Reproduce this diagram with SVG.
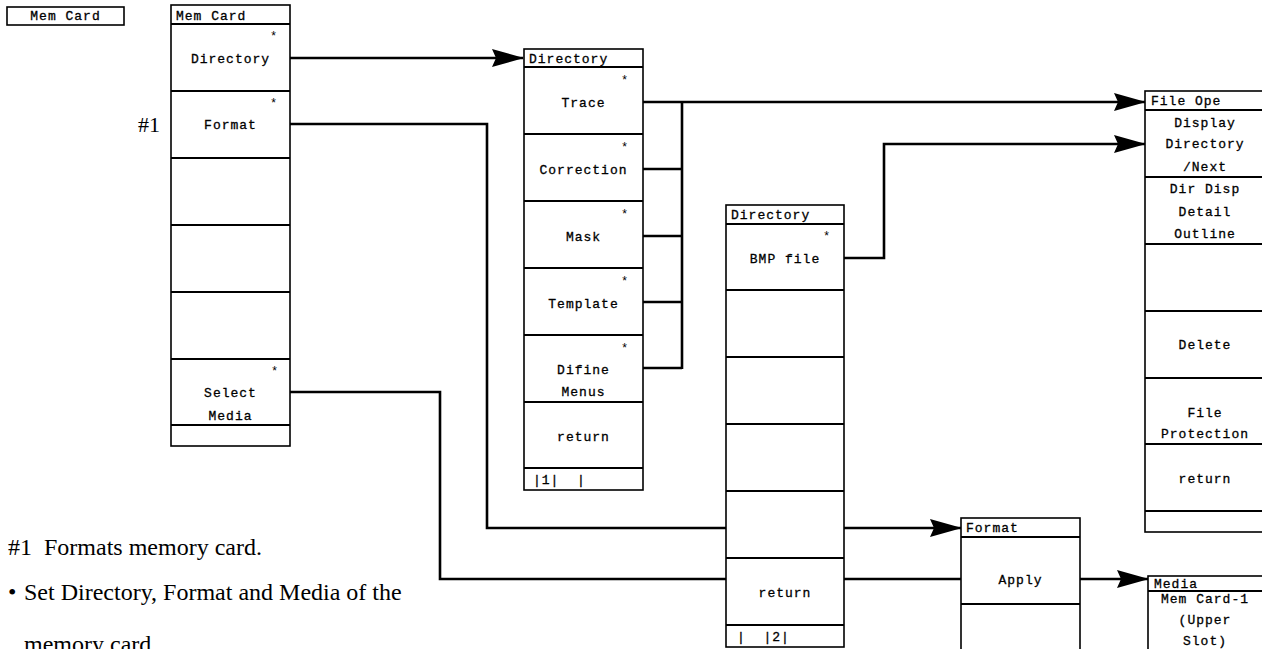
<svg xmlns="http://www.w3.org/2000/svg" width="1262" height="649" viewBox="0 0 1262 649">
<style>
.box{fill:#fff;stroke:#000;stroke-width:1.6}
.row{stroke:#000;stroke-width:2;fill:none}
.t{font-family:"Liberation Mono",monospace;font-size:13px;letter-spacing:1px;fill:#000;stroke:#000;stroke-width:0.3}
.c{text-anchor:middle}
.st{font-family:"Liberation Mono",monospace;font-size:12px;fill:#000}
.pre{white-space:pre}
.conn{fill:none;stroke:#000;stroke-width:2.6}
.serif{font-family:"Liberation Serif",serif;fill:#000}
</style>
<defs>
<marker id="ah" viewBox="0 0 32 18" refX="31" refY="9" markerWidth="32" markerHeight="18" markerUnits="userSpaceOnUse" orient="auto">
<path d="M0,0 L32,9 L0,18 L4,9 z" fill="#000"/>
</marker>
</defs>

<g id="connectors">
<path class="conn" d="M290,58 H523" marker-end="url(#ah)"/>
<path class="conn" d="M290,124 H487 V528 H961" marker-end="url(#ah)"/>
<path class="conn" d="M290,392 H440 V579 H1148" marker-end="url(#ah)"/>
<path class="conn" d="M643,102 H1145" marker-end="url(#ah)"/>
<path class="conn" d="M643,169 H682 M643,236 H682 M643,302 H682 M643,368 H682 M682,102 V369"/>
<path class="conn" d="M844,258 H884 V144 H1145" marker-end="url(#ah)"/>
</g>

<g id="memcard-label">
<rect class="box" x="7" y="7" width="117" height="18"/>
<text class="t c" x="65.5" y="20">Mem Card</text>
</g>

<g id="memcard-menu">
<rect class="box" x="171" y="5" width="119" height="441"/>
<path class="row" d="M171,24 H290 M171,91 H290 M171,158 H290 M171,225 H290 M171,292 H290 M171,359 H290 M171,425 H290"/>
<text class="t" x="176" y="19.5">Mem Card</text>
<text class="t c" x="230.5" y="62.5">Directory</text>
<text class="st" x="270" y="40">*</text>
<text class="t c" x="230.5" y="128.5">Format</text>
<text class="st" x="270" y="107">*</text>
<text class="t c" x="230.5" y="396.5">Select</text>
<text class="t c" x="230.5" y="419.5">Media</text>
<text class="st" x="271" y="375">*</text>
</g>

<g id="directory-1">
<rect class="box" x="524" y="49" width="119" height="441"/>
<path class="row" d="M524,67 H643 M524,134 H643 M524,201 H643 M524,268 H643 M524,335 H643 M524,402 H643 M524,468 H643"/>
<text class="t" x="529" y="62.5">Directory</text>
<text class="t c" x="583.5" y="106.5">Trace</text>
<text class="st" x="621" y="84">*</text>
<text class="t c" x="583.5" y="173.5">Correction</text>
<text class="st" x="621" y="151">*</text>
<text class="t c" x="583.5" y="240.5">Mask</text>
<text class="st" x="621" y="218">*</text>
<text class="t c" x="583.5" y="307.5">Template</text>
<text class="st" x="621" y="285">*</text>
<text class="t c" x="583.5" y="373.5">Difine</text>
<text class="t c" x="583.5" y="395.5">Menus</text>
<text class="st" x="621" y="352">*</text>
<text class="t c" x="583.5" y="440.5">return</text>
<text class="t pre" x="533" y="484">|1|  |</text>
</g>

<g id="directory-2">
<rect class="box" x="726" y="205" width="118" height="442"/>
<path class="row" d="M726,224 H844 M726,290 H844 M726,357 H844 M726,424 H844 M726,491 H844 M726,558 H844 M726,625 H844"/>
<text class="t" x="731" y="219">Directory</text>
<text class="t c" x="785" y="262.5">BMP file</text>
<text class="st" x="823" y="240">*</text>
<text class="t c" x="785" y="596.5">return</text>
<text class="t pre" x="737" y="641">|  |2|</text>
</g>

<g id="file-ope">
<rect class="box" x="1145" y="91" width="120" height="441"/>
<path class="row" d="M1145,110 H1265 M1145,177 H1265 M1145,244 H1265 M1145,311 H1265 M1145,378 H1265 M1145,444 H1265 M1145,511 H1265"/>
<text class="t" x="1151" y="105">File Ope</text>
<text class="t c" x="1205" y="126.5">Display</text>
<text class="t c" x="1205" y="147.5">Directory</text>
<text class="t c" x="1205" y="170.5">/Next</text>
<text class="t c" x="1205" y="192.5">Dir Disp</text>
<text class="t c" x="1205" y="215.5">Detail</text>
<text class="t c" x="1205" y="237.5">Outline</text>
<text class="t c" x="1205" y="348.5">Delete</text>
<text class="t c" x="1205" y="416.5">File</text>
<text class="t c" x="1205" y="437.5">Protection</text>
<text class="t c" x="1205" y="482.5">return</text>
</g>

<g id="format-menu">
<rect class="box" x="961" y="518" width="119" height="160"/>
<path class="row" d="M961,537 H1080 M961,604 H1080"/>
<text class="t" x="966" y="532">Format</text>
<text class="t c" x="1020.5" y="584">Apply</text>
</g>

<g id="media-menu">
<rect class="box" x="1148" y="576" width="117" height="100"/>
<path class="row" d="M1148,591 H1265"/>
<text class="t" x="1154" y="588">Media</text>
<text class="t c" x="1205" y="603">Mem Card-1</text>
<text class="t c" x="1205" y="624">(Upper</text>
<text class="t c" x="1205" y="645">Slot)</text>
</g>

<g id="notes">
<text class="serif" x="138" y="132" font-size="22">#1</text>
<text class="serif pre" x="8" y="555" font-size="24">#1  Formats memory card.</text>
<text class="serif" x="8" y="600" font-size="24">•</text>
<text class="serif" x="24" y="600" font-size="24">Set Directory, Format and Media of the</text>
<text class="serif" x="24" y="652" font-size="24">memory card.</text>
</g>
</svg>
